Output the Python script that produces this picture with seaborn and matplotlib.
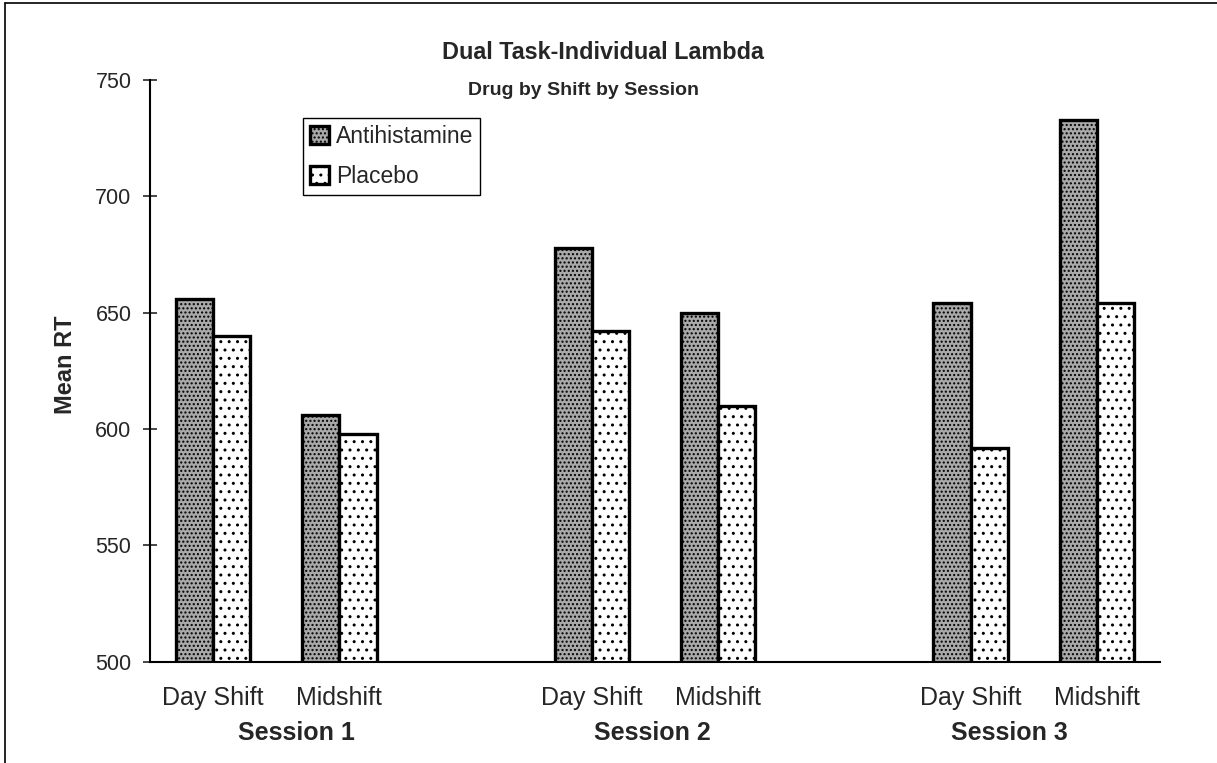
import numpy as np
import pandas as pd
import matplotlib
matplotlib.use("Agg")
import matplotlib.pyplot as plt
import seaborn as sns
from matplotlib.lines import Line2D

# values
sessions = ["Session 1", "Session 2", "Session 3"]
shifts = ["Day Shift", "Midshift"]
drugs = ["Antihistamine", "Placebo"]
antihistamine = [656, 606, 678, 650, 654, 733]
placebo = [640, 598, 642, 610, 592, 654]
yticks = [500, 550, 600, 650, 700, 750]

rows = []
order = []
for i, sess in enumerate(sessions):
    for j, sh in enumerate(shifts):
        key = f"{sess}|{sh}"
        order.append(key)
        rows.append({"slot": key, "Drug": drugs[0], "RT": antihistamine[2 * i + j]})
        rows.append({"slot": key, "Drug": drugs[1], "RT": placebo[2 * i + j]})
    if i < len(sessions) - 1:
        order.append(f"gap{i}")
df = pd.DataFrame(rows)

sns.set_style("white")
plt.rcParams["font.family"] = ["Liberation Sans", "DejaVu Sans"]
plt.rcParams["hatch.linewidth"] = 1.0

fig = plt.figure(figsize=(12.17, 7.63), dpi=100)
ax = fig.add_axes([150 / 1217, 1 - 661.7 / 763, 1010 / 1217, 581.7 / 763])

sns.barplot(data=df, x="slot", y="RT", hue="Drug", order=order, hue_order=drugs,
            palette={"Antihistamine": "#a9a9a9", "Placebo": "white"},
            width=0.59, errorbar=None, saturation=1, edgecolor="black",
            linewidth=2.4, legend=False, ax=ax)

for cont, hatch in zip(ax.containers, ["....", ".."]):
    for bar in cont:
        bar.set_hatch(hatch)

ax.set_ylim(500, 750)
ax.set_yticks(yticks)
ax.tick_params(axis="y", direction="inout", length=10, width=1.2, pad=8.4,
               labelsize=15.5, left=True)
ax.set_xlabel("")
ax.set_ylabel("")

tick_pos = [k for k, s in enumerate(order) if not s.startswith("gap")]
ax.set_xticks(tick_pos)
ax.set_xticklabels([s.split("|")[1] for s in order if not s.startswith("gap")])
ax.tick_params(axis="x", length=0, pad=17.4, labelsize=18)

for sp in ["top", "right"]:
    ax.spines[sp].set_visible(False)
for sp in ["left", "bottom"]:
    ax.spines[sp].set_color("black")
    ax.spines[sp].set_linewidth(1.5)

# session group labels under the shift labels
for sess, xs in zip(sessions, [0.662, 3.476, 6.304]):
    ax.text(xs, -0.1346, sess, transform=ax.get_xaxis_transform(),
            ha="center", va="baseline", fontsize=18, fontweight="bold")

fig.text(603 / 1217, 1 - 59.3 / 763, "Dual Task-Individual Lambda",
         ha="center", va="baseline", fontsize=16.8, fontweight="bold")
fig.text(583.5 / 1217, 1 - 95 / 763, "Drug by Shift by Session",
         ha="center", va="baseline", fontsize=14, fontweight="bold")
fig.text(66 / 1217, 1 - 365 / 763, "Mean RT", rotation=90,
         ha="center", va="center", fontsize=17, fontweight="bold")

leg = ax.legend(ax.containers, drugs, loc="upper left",
                bbox_to_anchor=(303 / 1217, 1 - 118 / 763),
                bbox_transform=fig.transFigure, fontsize=16.5,
                frameon=True, fancybox=False, framealpha=1,
                handlelength=0.85, handleheight=0.85, handletextpad=0.3,
                borderpad=0.3, labelspacing=0.75, borderaxespad=0)
leg.get_frame().set_edgecolor("black")
leg.get_frame().set_linewidth(1.0)

# page frame from the scan (top and left edges)
fig.add_artist(Line2D([5 / 1217, 1], [1 - 3 / 763, 1 - 3 / 763],
                      transform=fig.transFigure, color="black", lw=1.2))
fig.add_artist(Line2D([5 / 1217, 5 / 1217], [0, 1 - 3 / 763],
                      transform=fig.transFigure, color="black", lw=1.2))

fig.savefig("out.png", dpi=100)
